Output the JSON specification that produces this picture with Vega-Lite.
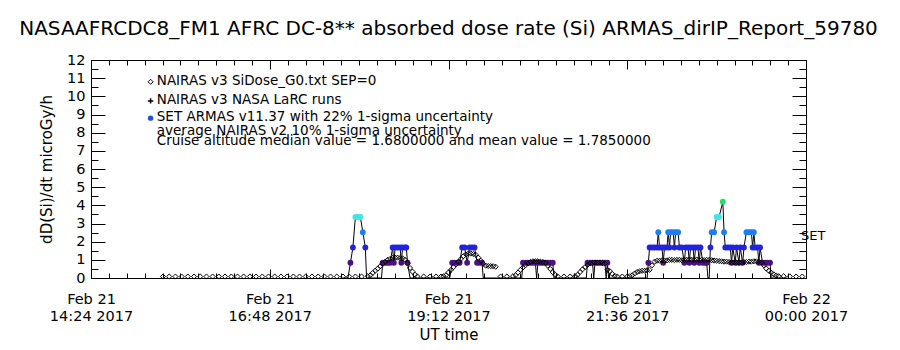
{
  "$schema": "https://vega.github.io/schema/vega-lite/v6.json",
  "width": 715,
  "height": 218,
  "autosize": {"type": "none"},
  "padding": {"left": 91, "top": 60, "right": 94, "bottom": 72},
  "background": "white",
  "title": {"text": "NASAAFRCDC8_FM1 AFRC DC-8** absorbed dose rate (Si) ARMAS_dirIP_Report_59780", "font": "DejaVu Sans", "fontSize": 20, "fontWeight": "normal", "color": "black", "offset": 13, "anchor": "middle"},
  "config": {
    "view": {"stroke": "black", "strokeWidth": 1},
    "axis": {"domainColor": "black", "tickColor": "black", "labelColor": "black", "titleColor": "black", "labelFont": "DejaVu Sans", "titleFont": "DejaVu Sans", "titleFontWeight": "normal", "grid": false, "tickWidth": 1, "domainWidth": 1}
  },
  "datasets": {
    "nairas": [
      {"time":"2017-02-21T15:22:00Z","dose":0.08},{"time":"2017-02-21T15:27:00Z","dose":0.08},{"time":"2017-02-21T15:32:00Z","dose":0.08},{"time":"2017-02-21T15:37:00Z","dose":0.08},{"time":"2017-02-21T15:42:00Z","dose":0.08},{"time":"2017-02-21T15:47:00Z","dose":0.08},{"time":"2017-02-21T15:52:00Z","dose":0.08},{"time":"2017-02-21T15:57:00Z","dose":0.08},{"time":"2017-02-21T16:02:00Z","dose":0.08},{"time":"2017-02-21T16:07:00Z","dose":0.08},{"time":"2017-02-21T16:12:00Z","dose":0.08},{"time":"2017-02-21T16:17:00Z","dose":0.08},{"time":"2017-02-21T16:22:00Z","dose":0.08},{"time":"2017-02-21T16:27:00Z","dose":0.08},{"time":"2017-02-21T16:32:00Z","dose":0.08},{"time":"2017-02-21T16:37:00Z","dose":0.08},{"time":"2017-02-21T16:42:00Z","dose":0.08},{"time":"2017-02-21T16:47:00Z","dose":0.08},{"time":"2017-02-21T16:52:00Z","dose":0.08},{"time":"2017-02-21T16:57:00Z","dose":0.08},{"time":"2017-02-21T17:02:00Z","dose":0.08},{"time":"2017-02-21T17:07:00Z","dose":0.08},{"time":"2017-02-21T17:12:00Z","dose":0.08},{"time":"2017-02-21T17:17:00Z","dose":0.08},{"time":"2017-02-21T17:22:00Z","dose":0.08},{"time":"2017-02-21T17:27:00Z","dose":0.08},{"time":"2017-02-21T17:32:00Z","dose":0.08},{"time":"2017-02-21T17:37:00Z","dose":0.08},{"time":"2017-02-21T17:42:00Z","dose":0.08},{"time":"2017-02-21T17:47:00Z","dose":0.08},{"time":"2017-02-21T17:52:00Z","dose":0.08},{"time":"2017-02-21T17:57:00Z","dose":0.08},{"time":"2017-02-21T18:02:00Z","dose":0.08},
      {"time":"2017-02-21T18:07:00Z","dose":0.1},{"time":"2017-02-21T18:09:00Z","dose":0.15},{"time":"2017-02-21T18:11:00Z","dose":0.28},{"time":"2017-02-21T18:13:00Z","dose":0.4},{"time":"2017-02-21T18:15:00Z","dose":0.52},{"time":"2017-02-21T18:17:00Z","dose":0.65},{"time":"2017-02-21T18:19:00Z","dose":0.78},{"time":"2017-02-21T18:21:00Z","dose":0.9},{"time":"2017-02-21T18:23:00Z","dose":1.0},{"time":"2017-02-21T18:25:00Z","dose":1.05},{"time":"2017-02-21T18:27:00Z","dose":1.1},{"time":"2017-02-21T18:29:00Z","dose":1.12},{"time":"2017-02-21T18:31:00Z","dose":1.12},{"time":"2017-02-21T18:33:00Z","dose":1.1},{"time":"2017-02-21T18:35:00Z","dose":1.08},{"time":"2017-02-21T18:37:00Z","dose":1.0},{"time":"2017-02-21T18:39:00Z","dose":0.8},{"time":"2017-02-21T18:41:00Z","dose":0.55},{"time":"2017-02-21T18:43:00Z","dose":0.35},{"time":"2017-02-21T18:45:00Z","dose":0.18},{"time":"2017-02-21T18:47:00Z","dose":0.08},
      {"time":"2017-02-21T18:52:00Z","dose":0.08},{"time":"2017-02-21T18:57:00Z","dose":0.08},{"time":"2017-02-21T19:02:00Z","dose":0.08},{"time":"2017-02-21T19:06:00Z","dose":0.08},
      {"time":"2017-02-21T19:08:00Z","dose":0.1},{"time":"2017-02-21T19:10:00Z","dose":0.15},{"time":"2017-02-21T19:12:00Z","dose":0.3},{"time":"2017-02-21T19:14:00Z","dose":0.45},{"time":"2017-02-21T19:16:00Z","dose":0.6},{"time":"2017-02-21T19:18:00Z","dose":0.75},{"time":"2017-02-21T19:20:00Z","dose":0.9},{"time":"2017-02-21T19:22:00Z","dose":1.05},{"time":"2017-02-21T19:24:00Z","dose":1.2},{"time":"2017-02-21T19:26:00Z","dose":1.3},{"time":"2017-02-21T19:28:00Z","dose":1.35},{"time":"2017-02-21T19:30:00Z","dose":1.35},{"time":"2017-02-21T19:32:00Z","dose":1.32},{"time":"2017-02-21T19:34:00Z","dose":1.28},{"time":"2017-02-21T19:36:00Z","dose":1.12},{"time":"2017-02-21T19:38:00Z","dose":0.95},{"time":"2017-02-21T19:40:00Z","dose":0.78},{"time":"2017-02-21T19:42:00Z","dose":0.68},{"time":"2017-02-21T19:44:00Z","dose":0.66},{"time":"2017-02-21T19:46:00Z","dose":0.65},{"time":"2017-02-21T19:48:00Z","dose":0.65},{"time":"2017-02-21T19:50:00Z","dose":0.62},
      {"time":"2017-02-21T19:54:00Z","dose":0.08},{"time":"2017-02-21T19:59:00Z","dose":0.08},
      {"time":"2017-02-21T20:04:00Z","dose":0.1},{"time":"2017-02-21T20:06:00Z","dose":0.15},{"time":"2017-02-21T20:08:00Z","dose":0.3},{"time":"2017-02-21T20:10:00Z","dose":0.45},{"time":"2017-02-21T20:12:00Z","dose":0.58},{"time":"2017-02-21T20:14:00Z","dose":0.7},{"time":"2017-02-21T20:16:00Z","dose":0.8},{"time":"2017-02-21T20:18:00Z","dose":0.88},{"time":"2017-02-21T20:20:00Z","dose":0.92},{"time":"2017-02-21T20:22:00Z","dose":0.92},{"time":"2017-02-21T20:24:00Z","dose":0.92},{"time":"2017-02-21T20:26:00Z","dose":0.9},{"time":"2017-02-21T20:28:00Z","dose":0.88},{"time":"2017-02-21T20:30:00Z","dose":0.85},{"time":"2017-02-21T20:32:00Z","dose":0.68},{"time":"2017-02-21T20:34:00Z","dose":0.5},{"time":"2017-02-21T20:36:00Z","dose":0.32},{"time":"2017-02-21T20:38:00Z","dose":0.17},{"time":"2017-02-21T20:40:00Z","dose":0.08},
      {"time":"2017-02-21T20:45:00Z","dose":0.08},{"time":"2017-02-21T20:50:00Z","dose":0.08},
      {"time":"2017-02-21T20:54:00Z","dose":0.1},{"time":"2017-02-21T20:56:00Z","dose":0.18},{"time":"2017-02-21T20:58:00Z","dose":0.33},{"time":"2017-02-21T21:00:00Z","dose":0.48},{"time":"2017-02-21T21:02:00Z","dose":0.6},{"time":"2017-02-21T21:04:00Z","dose":0.72},{"time":"2017-02-21T21:06:00Z","dose":0.8},{"time":"2017-02-21T21:08:00Z","dose":0.83},{"time":"2017-02-21T21:10:00Z","dose":0.85},{"time":"2017-02-21T21:12:00Z","dose":0.85},{"time":"2017-02-21T21:14:00Z","dose":0.85},{"time":"2017-02-21T21:16:00Z","dose":0.83},{"time":"2017-02-21T21:18:00Z","dose":0.8},{"time":"2017-02-21T21:20:00Z","dose":0.45},{"time":"2017-02-21T21:22:00Z","dose":0.38},{"time":"2017-02-21T21:24:00Z","dose":0.22},{"time":"2017-02-21T21:26:00Z","dose":0.12},{"time":"2017-02-21T21:28:00Z","dose":0.08},
      {"time":"2017-02-21T21:32:00Z","dose":0.08},{"time":"2017-02-21T21:36:00Z","dose":0.08},
      {"time":"2017-02-21T21:38:00Z","dose":0.1},{"time":"2017-02-21T21:40:00Z","dose":0.15},{"time":"2017-02-21T21:42:00Z","dose":0.25},{"time":"2017-02-21T21:44:00Z","dose":0.33},{"time":"2017-02-21T21:46:00Z","dose":0.37},{"time":"2017-02-21T21:48:00Z","dose":0.4},{"time":"2017-02-21T21:50:00Z","dose":0.4},{"time":"2017-02-21T21:52:00Z","dose":0.42},{"time":"2017-02-21T21:54:00Z","dose":0.45},{"time":"2017-02-21T21:56:00Z","dose":0.7},{"time":"2017-02-21T21:58:00Z","dose":0.9},
      {"time":"2017-02-21T22:00:00Z","dose":0.95},{"time":"2017-02-21T22:02:00Z","dose":0.95},{"time":"2017-02-21T22:04:00Z","dose":0.97},{"time":"2017-02-21T22:06:00Z","dose":0.96},{"time":"2017-02-21T22:08:00Z","dose":0.97},{"time":"2017-02-21T22:10:00Z","dose":1.0},{"time":"2017-02-21T22:12:00Z","dose":1.0},{"time":"2017-02-21T22:14:00Z","dose":0.98},{"time":"2017-02-21T22:16:00Z","dose":1.0},{"time":"2017-02-21T22:18:00Z","dose":1.0},{"time":"2017-02-21T22:20:00Z","dose":0.98},{"time":"2017-02-21T22:22:00Z","dose":1.0},{"time":"2017-02-21T22:24:00Z","dose":1.0},{"time":"2017-02-21T22:26:00Z","dose":1.02},{"time":"2017-02-21T22:28:00Z","dose":1.0},{"time":"2017-02-21T22:30:00Z","dose":1.0},{"time":"2017-02-21T22:32:00Z","dose":1.02},{"time":"2017-02-21T22:34:00Z","dose":1.0},{"time":"2017-02-21T22:36:00Z","dose":1.0},{"time":"2017-02-21T22:38:00Z","dose":0.98},{"time":"2017-02-21T22:40:00Z","dose":1.0},{"time":"2017-02-21T22:42:00Z","dose":1.0},{"time":"2017-02-21T22:44:00Z","dose":0.98},{"time":"2017-02-21T22:46:00Z","dose":0.96},{"time":"2017-02-21T22:48:00Z","dose":0.95},{"time":"2017-02-21T22:50:00Z","dose":0.93},{"time":"2017-02-21T22:52:00Z","dose":0.92},{"time":"2017-02-21T22:54:00Z","dose":0.9},{"time":"2017-02-21T22:56:00Z","dose":0.9},{"time":"2017-02-21T22:58:00Z","dose":0.88},{"time":"2017-02-21T23:00:00Z","dose":0.86},{"time":"2017-02-21T23:02:00Z","dose":0.86},{"time":"2017-02-21T23:04:00Z","dose":0.85},{"time":"2017-02-21T23:06:00Z","dose":0.85},{"time":"2017-02-21T23:08:00Z","dose":0.86},{"time":"2017-02-21T23:10:00Z","dose":0.88},{"time":"2017-02-21T23:12:00Z","dose":0.88},{"time":"2017-02-21T23:14:00Z","dose":0.9},{"time":"2017-02-21T23:16:00Z","dose":0.9},{"time":"2017-02-21T23:18:00Z","dose":0.92},{"time":"2017-02-21T23:20:00Z","dose":0.92},{"time":"2017-02-21T23:22:00Z","dose":0.9},{"time":"2017-02-21T23:24:00Z","dose":0.86},
      {"time":"2017-02-21T23:26:00Z","dose":0.7},{"time":"2017-02-21T23:28:00Z","dose":0.52},{"time":"2017-02-21T23:30:00Z","dose":0.4},{"time":"2017-02-21T23:32:00Z","dose":0.3},{"time":"2017-02-21T23:34:00Z","dose":0.2},{"time":"2017-02-21T23:36:00Z","dose":0.14},{"time":"2017-02-21T23:38:00Z","dose":0.1},{"time":"2017-02-21T23:42:00Z","dose":0.1},{"time":"2017-02-21T23:47:00Z","dose":0.09},{"time":"2017-02-21T23:52:00Z","dose":0.08},{"time":"2017-02-21T23:57:00Z","dose":0.08}
    ],
    "armas": [
      {"time":"2017-02-21T17:45:00Z","dose":0},{"time":"2017-02-21T17:51:00Z","dose":0},{"time":"2017-02-21T17:53:00Z","dose":0.84},{"time":"2017-02-21T17:55:00Z","dose":1.68},{"time":"2017-02-21T17:57:00Z","dose":3.36},{"time":"2017-02-21T17:59:00Z","dose":3.36},{"time":"2017-02-21T18:01:00Z","dose":3.36},{"time":"2017-02-21T18:03:00Z","dose":2.52},{"time":"2017-02-21T18:05:00Z","dose":1.68},{"time":"2017-02-21T18:06:00Z","dose":0},
      {"time":"2017-02-21T18:18:00Z","dose":0},{"time":"2017-02-21T18:19:00Z","dose":0.84},{"time":"2017-02-21T18:21:00Z","dose":0.84},{"time":"2017-02-21T18:23:00Z","dose":0.84},{"time":"2017-02-21T18:25:00Z","dose":0.84},{"time":"2017-02-21T18:27:00Z","dose":1.68},{"time":"2017-02-21T18:28:00Z","dose":0.84},{"time":"2017-02-21T18:29:00Z","dose":1.68},{"time":"2017-02-21T18:31:00Z","dose":1.68},{"time":"2017-02-21T18:33:00Z","dose":1.68},{"time":"2017-02-21T18:34:00Z","dose":0.84},{"time":"2017-02-21T18:35:00Z","dose":1.68},{"time":"2017-02-21T18:37:00Z","dose":1.68},{"time":"2017-02-21T18:38:00Z","dose":1.68},{"time":"2017-02-21T18:39:00Z","dose":0.84},{"time":"2017-02-21T18:41:00Z","dose":0},
      {"time":"2017-02-21T19:13:00Z","dose":0},{"time":"2017-02-21T19:15:00Z","dose":0.84},{"time":"2017-02-21T19:17:00Z","dose":0.84},{"time":"2017-02-21T19:19:00Z","dose":0.84},{"time":"2017-02-21T19:21:00Z","dose":0.84},{"time":"2017-02-21T19:23:00Z","dose":1.68},{"time":"2017-02-21T19:25:00Z","dose":1.68},{"time":"2017-02-21T19:27:00Z","dose":0.84},{"time":"2017-02-21T19:29:00Z","dose":1.68},{"time":"2017-02-21T19:31:00Z","dose":1.68},{"time":"2017-02-21T19:33:00Z","dose":1.68},{"time":"2017-02-21T19:35:00Z","dose":0.84},{"time":"2017-02-21T19:37:00Z","dose":0.84},{"time":"2017-02-21T19:39:00Z","dose":0.84},{"time":"2017-02-21T19:40:00Z","dose":0},
      {"time":"2017-02-21T20:11:00Z","dose":0},{"time":"2017-02-21T20:12:00Z","dose":0.84},{"time":"2017-02-21T20:14:00Z","dose":0.84},{"time":"2017-02-21T20:16:00Z","dose":0.84},{"time":"2017-02-21T20:18:00Z","dose":0.84},{"time":"2017-02-21T20:20:00Z","dose":0.84},{"time":"2017-02-21T20:22:00Z","dose":0.84},{"time":"2017-02-21T20:23:00Z","dose":0},{"time":"2017-02-21T20:24:00Z","dose":0.84},{"time":"2017-02-21T20:26:00Z","dose":0.84},{"time":"2017-02-21T20:28:00Z","dose":0.84},{"time":"2017-02-21T20:30:00Z","dose":0.84},{"time":"2017-02-21T20:32:00Z","dose":0.84},{"time":"2017-02-21T20:34:00Z","dose":0.84},{"time":"2017-02-21T20:36:00Z","dose":0.84},{"time":"2017-02-21T20:37:00Z","dose":0},
      {"time":"2017-02-21T21:03:00Z","dose":0},{"time":"2017-02-21T21:04:00Z","dose":0.84},{"time":"2017-02-21T21:06:00Z","dose":0.84},{"time":"2017-02-21T21:08:00Z","dose":0.84},{"time":"2017-02-21T21:09:00Z","dose":0},{"time":"2017-02-21T21:10:00Z","dose":0.84},{"time":"2017-02-21T21:12:00Z","dose":0.84},{"time":"2017-02-21T21:14:00Z","dose":0.84},{"time":"2017-02-21T21:16:00Z","dose":0.84},{"time":"2017-02-21T21:18:00Z","dose":0.84},{"time":"2017-02-21T21:19:00Z","dose":0},{"time":"2017-02-21T21:20:00Z","dose":0.84},{"time":"2017-02-21T21:21:00Z","dose":0},
      {"time":"2017-02-21T21:52:00Z","dose":0},{"time":"2017-02-21T21:53:00Z","dose":0.84},{"time":"2017-02-21T21:54:00Z","dose":1.68},{"time":"2017-02-21T21:56:00Z","dose":1.68},{"time":"2017-02-21T21:58:00Z","dose":1.68},{"time":"2017-02-21T22:00:00Z","dose":1.68},{"time":"2017-02-21T22:01:00Z","dose":2.52},{"time":"2017-02-21T22:02:00Z","dose":1.68},{"time":"2017-02-21T22:04:00Z","dose":1.68},{"time":"2017-02-21T22:05:00Z","dose":0.84},{"time":"2017-02-21T22:06:00Z","dose":1.68},{"time":"2017-02-21T22:08:00Z","dose":1.68},{"time":"2017-02-21T22:09:00Z","dose":2.52},{"time":"2017-02-21T22:10:00Z","dose":1.68},{"time":"2017-02-21T22:11:00Z","dose":2.52},{"time":"2017-02-21T22:13:00Z","dose":2.52},{"time":"2017-02-21T22:14:00Z","dose":1.68},{"time":"2017-02-21T22:15:00Z","dose":2.52},{"time":"2017-02-21T22:17:00Z","dose":2.52},{"time":"2017-02-21T22:18:00Z","dose":1.68},{"time":"2017-02-21T22:20:00Z","dose":1.68},{"time":"2017-02-21T22:22:00Z","dose":0.84},{"time":"2017-02-21T22:23:00Z","dose":1.68},{"time":"2017-02-21T22:25:00Z","dose":1.68},{"time":"2017-02-21T22:26:00Z","dose":0.84},{"time":"2017-02-21T22:27:00Z","dose":1.68},{"time":"2017-02-21T22:29:00Z","dose":1.68},{"time":"2017-02-21T22:30:00Z","dose":0.84},{"time":"2017-02-21T22:31:00Z","dose":1.68},{"time":"2017-02-21T22:33:00Z","dose":1.68},{"time":"2017-02-21T22:34:00Z","dose":0.84},{"time":"2017-02-21T22:35:00Z","dose":1.68},{"time":"2017-02-21T22:37:00Z","dose":0.84},{"time":"2017-02-21T22:39:00Z","dose":0.84},{"time":"2017-02-21T22:40:00Z","dose":0.84},{"time":"2017-02-21T22:41:00Z","dose":0},{"time":"2017-02-21T22:42:00Z","dose":0},
      {"time":"2017-02-21T22:43:00Z","dose":1.68},{"time":"2017-02-21T22:44:00Z","dose":2.52},{"time":"2017-02-21T22:46:00Z","dose":2.52},{"time":"2017-02-21T22:48:00Z","dose":3.36},{"time":"2017-02-21T22:50:00Z","dose":3.36},{"time":"2017-02-21T22:53:00Z","dose":4.2},{"time":"2017-02-21T22:54:00Z","dose":2.52},{"time":"2017-02-21T22:55:00Z","dose":1.68},{"time":"2017-02-21T22:57:00Z","dose":1.68},{"time":"2017-02-21T22:59:00Z","dose":1.68},{"time":"2017-02-21T23:00:00Z","dose":0.84},{"time":"2017-02-21T23:01:00Z","dose":1.68},{"time":"2017-02-21T23:03:00Z","dose":0.84},{"time":"2017-02-21T23:04:00Z","dose":1.68},{"time":"2017-02-21T23:06:00Z","dose":0.84},{"time":"2017-02-21T23:07:00Z","dose":1.68},{"time":"2017-02-21T23:09:00Z","dose":0.84},{"time":"2017-02-21T23:10:00Z","dose":1.68},{"time":"2017-02-21T23:12:00Z","dose":2.52},{"time":"2017-02-21T23:14:00Z","dose":2.52},{"time":"2017-02-21T23:16:00Z","dose":2.52},{"time":"2017-02-21T23:17:00Z","dose":1.68},{"time":"2017-02-21T23:18:00Z","dose":2.52},{"time":"2017-02-21T23:19:00Z","dose":1.68},{"time":"2017-02-21T23:21:00Z","dose":1.68},{"time":"2017-02-21T23:22:00Z","dose":0.84},{"time":"2017-02-21T23:23:00Z","dose":1.68},{"time":"2017-02-21T23:25:00Z","dose":0.84},{"time":"2017-02-21T23:27:00Z","dose":0.84},{"time":"2017-02-21T23:29:00Z","dose":0.84},{"time":"2017-02-21T23:31:00Z","dose":0.84},{"time":"2017-02-21T23:32:00Z","dose":0},{"time":"2017-02-21T23:45:00Z","dose":0}
    ]
  },
  "resolve": {"axis": {"x": "independent", "y": "independent"}},
  "layer": [
    {
      "data": {"name": "armas"},
      "mark": {"type": "line", "color": "black", "strokeWidth": 1},
      "encoding": {
        "x": {"field": "time", "type": "temporal", "scale": {"type": "utc", "domain": [1487687040000, 1487721600000]}, "axis": null},
        "y": {"field": "dose", "type": "quantitative", "scale": {"domain": [0, 12], "nice": false, "zero": false}, "axis": null}
      }
    },
    {
      "data": {"name": "armas"},
      "transform": [{"filter": "datum.dose > 0"}],
      "mark": {"type": "point", "shape": "circle", "filled": true, "size": 34, "opacity": 1},
      "encoding": {
        "x": {"field": "time", "type": "temporal", "scale": {"type": "utc", "domain": [1487687040000, 1487721600000]},
          "axis": {"orient": "top", "labels": false, "title": null, "domain": false,
            "values": [1487687040000,1487687904000,1487688768000,1487689632000,1487690496000,1487691360000,1487692224000,1487693088000,1487693952000,1487694816000,1487695680000,1487696544000,1487697408000,1487698272000,1487699136000,1487700000000,1487700864000,1487701728000,1487702592000,1487703456000,1487704320000,1487705184000,1487706048000,1487706912000,1487707776000,1487708640000,1487709504000,1487710368000,1487711232000,1487712096000,1487712960000,1487713824000,1487714688000,1487715552000,1487716416000,1487717280000,1487718144000,1487719008000,1487719872000,1487720736000,1487721600000],
            "tickSize": {"condition": {"test": "(datum.value - 1487687040000) % 8640000 === 0", "value": -9}, "value": -5}}},
        "y": {"field": "dose", "type": "quantitative", "scale": {"domain": [0, 12], "nice": false, "zero": false},
          "axis": {"orient": "right", "labels": false, "title": null, "domain": false,
            "values": [0,0.5,1,1.5,2,2.5,3,3.5,4,4.5,5,5.5,6,6.5,7,7.5,8,8.5,9,9.5,10,10.5,11,11.5,12],
            "tickSize": {"condition": {"test": "datum.value % 1 === 0", "value": -14}, "value": -7}}},
        "color": {"field": "dose", "type": "ordinal", "legend": null,
          "scale": {"domain": [0.84, 1.68, 2.52, 3.36, 4.2], "range": ["#4a127e", "#2222e0", "#1e7cf0", "#3ee6e6", "#22dc6a"]}}
      }
    },
    {
      "data": {"name": "nairas"},
      "mark": {"type": "point", "shape": "diamond", "filled": false, "stroke": "black", "strokeWidth": 1, "size": 26, "opacity": 1},
      "encoding": {
        "x": {"field": "time", "type": "temporal", "scale": {"type": "utc", "domain": [1487687040000, 1487721600000]},
          "axis": {"orient": "bottom", "title": "UT time", "titleFontSize": 15, "titlePadding": 5, "domain": false,
            "values": [1487687040000,1487687904000,1487688768000,1487689632000,1487690496000,1487691360000,1487692224000,1487693088000,1487693952000,1487694816000,1487695680000,1487696544000,1487697408000,1487698272000,1487699136000,1487700000000,1487700864000,1487701728000,1487702592000,1487703456000,1487704320000,1487705184000,1487706048000,1487706912000,1487707776000,1487708640000,1487709504000,1487710368000,1487711232000,1487712096000,1487712960000,1487713824000,1487714688000,1487715552000,1487716416000,1487717280000,1487718144000,1487719008000,1487719872000,1487720736000,1487721600000],
            "labelExpr": "(datum.value - 1487687040000) % 8640000 === 0 ? [utcFormat(datum.value, '%b %d'), utcFormat(datum.value, '%H:%M %Y')] : ''",
            "labelOverlap": false, "labelFlush": false, "labelBound": false, "labelFontSize": 14.5, "labelLineHeight": 17, "labelPadding": 23,
            "tickSize": {"condition": {"test": "(datum.value - 1487687040000) % 8640000 === 0", "value": -9}, "value": -5}}},
        "y": {"field": "dose", "type": "quantitative", "scale": {"domain": [0, 12], "nice": false, "zero": false},
          "axis": {"orient": "left", "title": "dD(Si)/dt microGy/h", "titleFontSize": 15, "titlePadding": 12, "domain": false,
            "values": [0,0.5,1,1.5,2,2.5,3,3.5,4,4.5,5,5.5,6,6.5,7,7.5,8,8.5,9,9.5,10,10.5,11,11.5,12],
            "labelExpr": "datum.value % 1 === 0 ? format(datum.value, 'd') : ''",
            "labelFontSize": 14.5, "labelPadding": 20, "labelOverlap": false, "labelBound": false, "labelFlush": false,
            "tickSize": {"condition": {"test": "datum.value % 1 === 0", "value": -14}, "value": -7}}}
      }
    },
    {
      "data": {"values": [{}]},
      "mark": {"type": "point", "shape": "diamond", "filled": false, "stroke": "black", "strokeWidth": 1, "size": 26, "opacity": 1},
      "encoding": {
        "x": {"datum": {"year": 2017, "month": 2, "date": 21, "hours": 15, "minutes": 12, "utc": true}, "type": "temporal", "axis": null},
        "y": {"datum": 10.8, "type": "quantitative", "axis": null}
      }
    },
    {
      "data": {"values": [{}]},
      "mark": {"type": "point", "shape": "M-1,0L1,0M0,-1L0,1", "filled": false, "stroke": "black", "strokeWidth": 1.5, "size": 30, "opacity": 1},
      "encoding": {
        "x": {"datum": {"year": 2017, "month": 2, "date": 21, "hours": 15, "minutes": 12, "utc": true}, "type": "temporal", "axis": null},
        "y": {"datum": 9.75, "type": "quantitative", "axis": null}
      }
    },
    {
      "data": {"values": [{}]},
      "mark": {"type": "point", "shape": "circle", "filled": true, "color": "#2050ee", "size": 30, "opacity": 1},
      "encoding": {
        "x": {"datum": {"year": 2017, "month": 2, "date": 21, "hours": 15, "minutes": 12, "utc": true}, "type": "temporal", "axis": null},
        "y": {"datum": 8.8, "type": "quantitative", "axis": null}
      }
    },
    {
      "data": {"values": [{}]},
      "mark": {"type": "text", "text": "NAIRAS v3 SiDose_G0.txt SEP=0", "align": "left", "baseline": "middle", "font": "DejaVu Sans", "fontSize": 13.5, "color": "black"},
      "encoding": {
        "x": {"datum": {"year": 2017, "month": 2, "date": 21, "hours": 15, "minutes": 17, "utc": true}, "type": "temporal", "axis": null},
        "y": {"datum": 10.85, "type": "quantitative", "axis": null}
      }
    },
    {
      "data": {"values": [{}]},
      "mark": {"type": "text", "text": "NAIRAS v3 NASA LaRC runs", "align": "left", "baseline": "middle", "font": "DejaVu Sans", "fontSize": 13.5, "color": "black"},
      "encoding": {
        "x": {"datum": {"year": 2017, "month": 2, "date": 21, "hours": 15, "minutes": 17, "utc": true}, "type": "temporal", "axis": null},
        "y": {"datum": 9.8, "type": "quantitative", "axis": null}
      }
    },
    {
      "data": {"values": [{}]},
      "mark": {"type": "text", "text": "SET ARMAS v11.37 with 22% 1-sigma uncertainty", "align": "left", "baseline": "middle", "font": "DejaVu Sans", "fontSize": 13.5, "color": "black"},
      "encoding": {
        "x": {"datum": {"year": 2017, "month": 2, "date": 21, "hours": 15, "minutes": 17, "utc": true}, "type": "temporal", "axis": null},
        "y": {"datum": 8.85, "type": "quantitative", "axis": null}
      }
    },
    {
      "data": {"values": [{}]},
      "mark": {"type": "text", "text": "average NAIRAS v2 10% 1-sigma uncertainty", "align": "left", "baseline": "middle", "font": "DejaVu Sans", "fontSize": 13.5, "color": "black"},
      "encoding": {
        "x": {"datum": {"year": 2017, "month": 2, "date": 21, "hours": 15, "minutes": 17, "utc": true}, "type": "temporal", "axis": null},
        "y": {"datum": 8.1, "type": "quantitative", "axis": null}
      }
    },
    {
      "data": {"values": [{}]},
      "mark": {"type": "text", "text": "Cruise altitude median value = 1.6800000 and mean value = 1.7850000", "align": "left", "baseline": "middle", "font": "DejaVu Sans", "fontSize": 13.5, "color": "black"},
      "encoding": {
        "x": {"datum": {"year": 2017, "month": 2, "date": 21, "hours": 15, "minutes": 17, "utc": true}, "type": "temporal", "axis": null},
        "y": {"datum": 7.55, "type": "quantitative", "axis": null}
      }
    },
    {
      "data": {"values": [{}]},
      "mark": {"type": "text", "text": "SET", "align": "left", "baseline": "middle", "font": "DejaVu Sans", "fontSize": 13, "color": "black"},
      "encoding": {
        "x": {"datum": {"year": 2017, "month": 2, "date": 21, "hours": 23, "minutes": 56, "utc": true}, "type": "temporal", "axis": null},
        "y": {"datum": 2.3, "type": "quantitative", "axis": null}
      }
    }
  ]
}
